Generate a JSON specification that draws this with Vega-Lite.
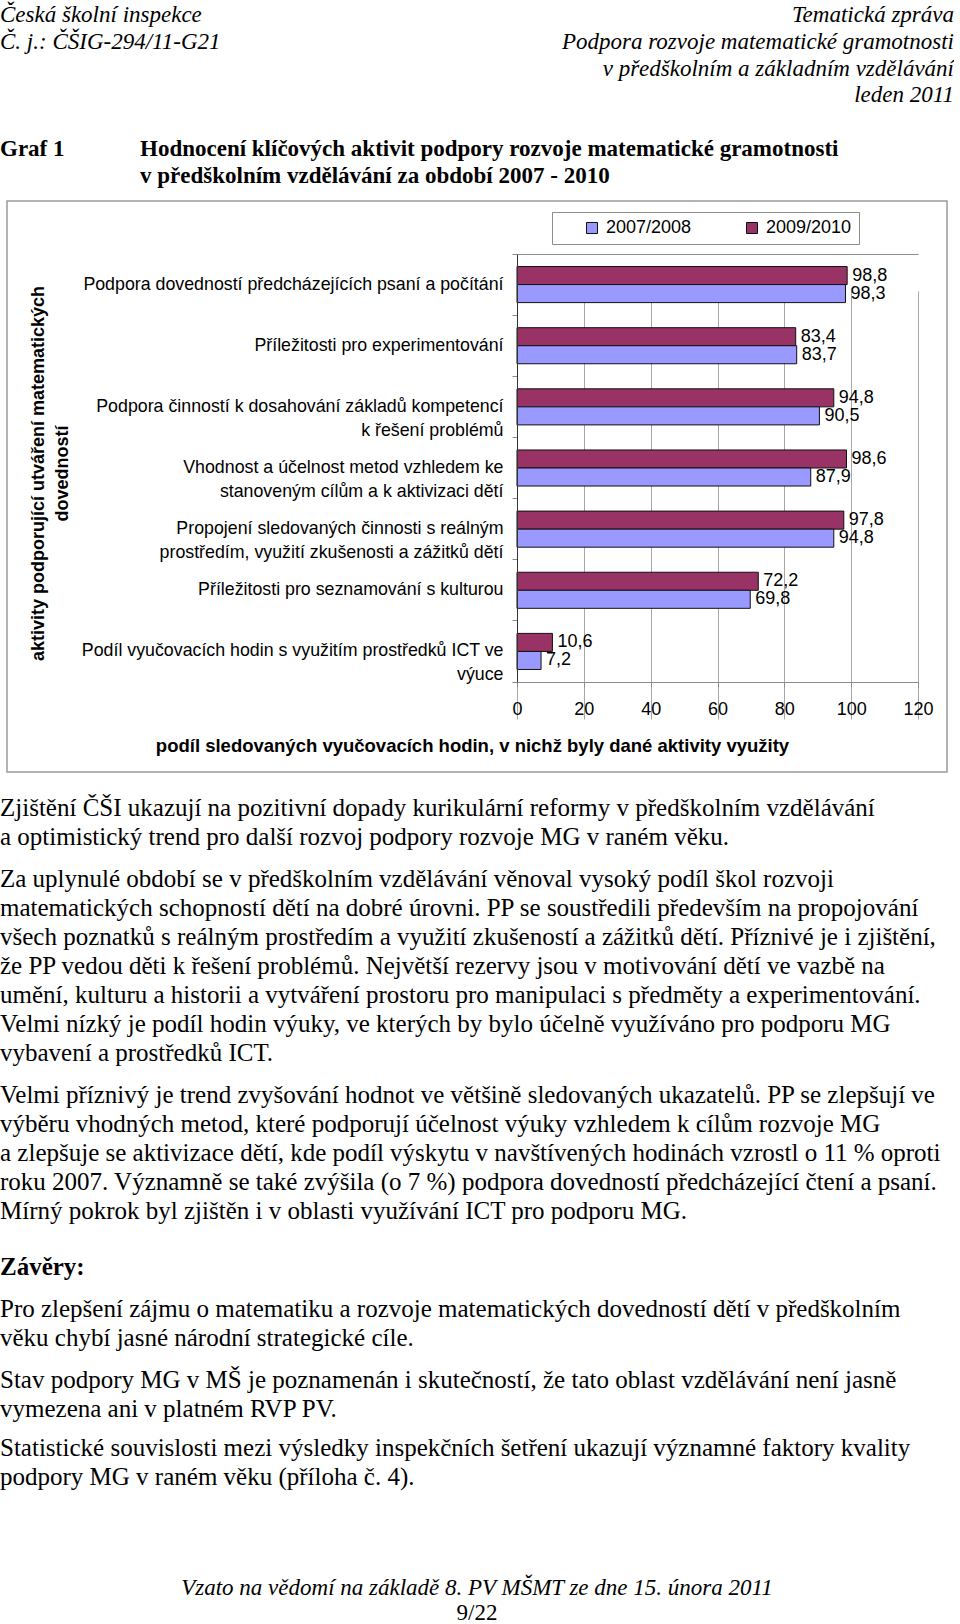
{
  "$schema": "https://vega.github.io/schema/vega-lite/v6.json",
  "padding": 0,
  "background": "white",
  "spacing": 0,
  "bounds": "flush",
  "center": true,
  "config": {
    "view": {"stroke": null},
    "font": "Liberation Sans",
    "locale": {"number": {"decimal": ",", "thousands": " ", "grouping": [3], "currency": ["", " Kč"]}}
  },
  "datasets": {
    "chart": [
      {"activity": "Podpora dovedností předcházejících psaní a počítání", "period": "2009/2010", "value": 98.8},
      {"activity": "Podpora dovedností předcházejících psaní a počítání", "period": "2007/2008", "value": 98.3},
      {"activity": "Příležitosti pro experimentování", "period": "2009/2010", "value": 83.4},
      {"activity": "Příležitosti pro experimentování", "period": "2007/2008", "value": 83.7},
      {"activity": "Podpora činností k dosahování základů kompetencí\nk řešení problémů", "period": "2009/2010", "value": 94.8},
      {"activity": "Podpora činností k dosahování základů kompetencí\nk řešení problémů", "period": "2007/2008", "value": 90.5},
      {"activity": "Vhodnost a účelnost metod vzhledem ke\nstanoveným cílům a k aktivizaci dětí", "period": "2009/2010", "value": 98.6},
      {"activity": "Vhodnost a účelnost metod vzhledem ke\nstanoveným cílům a k aktivizaci dětí", "period": "2007/2008", "value": 87.9},
      {"activity": "Propojení sledovaných činnosti s reálným\nprostředím, využití zkušenosti a zážitků dětí", "period": "2009/2010", "value": 97.8},
      {"activity": "Propojení sledovaných činnosti s reálným\nprostředím, využití zkušenosti a zážitků dětí", "period": "2007/2008", "value": 94.8},
      {"activity": "Příležitosti pro seznamování s kulturou", "period": "2009/2010", "value": 72.2},
      {"activity": "Příležitosti pro seznamování s kulturou", "period": "2007/2008", "value": 69.8},
      {"activity": "Podíl vyučovacích hodin s využitím prostředků ICT ve\nvýuce", "period": "2009/2010", "value": 10.6},
      {"activity": "Podíl vyučovacích hodin s využitím prostředků ICT ve\nvýuce", "period": "2007/2008", "value": 7.2}
    ],
    "topText": [
      {"kind": "header", "col": "left", "line": 1, "text": "Česká školní inspekce"},
      {"kind": "header", "col": "left", "line": 2, "text": "Č. j.: ČŠIG-294/11-G21"},
      {"kind": "header", "col": "right", "line": 1, "text": "Tematická zpráva"},
      {"kind": "header", "col": "right", "line": 2, "text": "Podpora rozvoje matematické gramotnosti"},
      {"kind": "header", "col": "right", "line": 3, "text": "v předškolním a základním vzdělávání"},
      {"kind": "header", "col": "right", "line": 4, "text": "leden 2011"},
      {"kind": "figure", "col": "left", "line": 6, "text": "Graf 1"},
      {"kind": "title", "col": "left", "line": 6, "text": "Hodnocení klíčových aktivit podpory rozvoje matematické gramotnosti"},
      {"kind": "title", "col": "left", "line": 7, "text": "v předškolním vzdělávání za období 2007 - 2010"}
    ],
    "bodyText": [
      {"para": 1, "col": "left", "line": 1, "text": "Zjištění ČŠI ukazují na pozitivní dopady kurikulární reformy v předškolním vzdělávání"},
      {"para": 1, "col": "left", "line": 2, "text": "a optimistický trend pro další rozvoj podpory rozvoje MG v raném věku."},
      {"para": 2, "col": "left", "line": 3, "text": "Za uplynulé období se v předškolním vzdělávání věnoval vysoký podíl škol rozvoji"},
      {"para": 2, "col": "left", "line": 4, "text": "matematických schopností dětí na dobré úrovni. PP se soustředili především na propojování"},
      {"para": 2, "col": "left", "line": 5, "text": "všech poznatků s reálným prostředím a využití zkušeností a zážitků dětí. Příznivé je i zjištění,"},
      {"para": 2, "col": "left", "line": 6, "text": "že PP vedou děti k řešení problémů. Největší rezervy jsou v motivování dětí ve vazbě na"},
      {"para": 2, "col": "left", "line": 7, "text": "umění, kulturu a historii a vytváření prostoru pro manipulaci s předměty a experimentování."},
      {"para": 2, "col": "left", "line": 8, "text": "Velmi nízký je podíl hodin výuky, ve kterých by bylo účelně využíváno pro podporu MG"},
      {"para": 2, "col": "left", "line": 9, "text": "vybavení a prostředků ICT."},
      {"para": 3, "col": "left", "line": 10, "text": "Velmi příznivý je trend zvyšování hodnot ve většině sledovaných ukazatelů. PP se zlepšují ve"},
      {"para": 3, "col": "left", "line": 11, "text": "výběru vhodných metod, které podporují účelnost výuky vzhledem k cílům rozvoje MG"},
      {"para": 3, "col": "left", "line": 12, "text": "a zlepšuje se aktivizace dětí, kde podíl výskytu v navštívených hodinách vzrostl o 11 % oproti"},
      {"para": 3, "col": "left", "line": 13, "text": "roku 2007. Významně se také zvýšila (o 7 %) podpora dovedností předcházející čtení a psaní."},
      {"para": 3, "col": "left", "line": 14, "text": "Mírný pokrok byl zjištěn i v oblasti využívání ICT pro podporu  MG."},
      {"para": 4, "col": "left", "line": 15, "text": "Závěry:"},
      {"para": 5, "col": "left", "line": 16, "text": "Pro zlepšení zájmu o matematiku a rozvoje matematických dovedností dětí v předškolním"},
      {"para": 5, "col": "left", "line": 17, "text": "věku chybí jasné národní strategické cíle."},
      {"para": 6, "col": "left", "line": 18, "text": "Stav podpory MG v MŠ je poznamenán i skutečností, že tato oblast vzdělávání není jasně"},
      {"para": 6, "col": "left", "line": 19, "text": "vymezena ani v platném RVP PV."},
      {"para": 7, "col": "left", "line": 20, "text": "Statistické souvislosti mezi výsledky inspekčních šetření ukazují významné faktory kvality"},
      {"para": 7, "col": "left", "line": 21, "text": "podpory MG v raném věku (příloha č. 4)."}
    ],
    "footText": [
      {"role": "note", "col": "center", "line": 1, "text": "Vzato na vědomí na základě 8. PV MŠMT ze dne 15. února 2011"},
      {"role": "page", "col": "center", "line": 2, "text": "9/22"}
    ]
  },
  "vconcat": [
    {
      "width": 954,
      "height": 201,
      "data": {"name": "topText"},
      "encoding": {
        "x": {"field": "col", "type": "nominal", "scale": {"type": "point", "domain": ["left", "center", "right"], "padding": 0}, "axis": null},
        "y": {"field": "line", "type": "quantitative", "scale": {"domain": [1, 7], "range": [15, 175.5]}, "axis": null},
        "text": {"field": "text"}
      },
      "layer": [
        {
          "transform": [{"filter": "datum.kind == 'header' && datum.col == 'left'"}],
          "mark": {"type": "text", "align": "left", "baseline": "middle", "font": "Liberation Serif", "fontStyle": "italic", "fontSize": 23, "color": "black"}
        },
        {
          "transform": [{"filter": "datum.kind == 'header' && datum.col == 'right'"}],
          "mark": {"type": "text", "align": "right", "baseline": "middle", "font": "Liberation Serif", "fontStyle": "italic", "fontSize": 23, "color": "black"}
        },
        {
          "transform": [{"filter": "datum.kind == 'figure'"}],
          "mark": {"type": "text", "align": "left", "baseline": "middle", "font": "Liberation Serif", "fontWeight": "bold", "fontSize": 23, "color": "black"}
        },
        {
          "transform": [{"filter": "datum.kind == 'title'"}],
          "mark": {"type": "text", "align": "left", "baseline": "middle", "dx": 140, "font": "Liberation Serif", "fontWeight": "bold", "fontSize": 23, "color": "black"}
        }
      ]
    },
    {
      "width": 940,
      "height": 571,
      "view": {"stroke": "#9a9a9a", "strokeWidth": 1.5, "fill": "white"},
      "data": {"name": "chart"},
      "resolve": {"axis": {"x": "independent"}},
      "encoding": {
        "y": {
          "field": "activity", "type": "nominal", "sort": null,
          "scale": {"range": [53, 481], "paddingInner": 0, "paddingOuter": 0},
          "axis": {
            "orient": "left", "offset": -510, "bandPosition": 1, "tickExtra": true,
            "domainColor": "#333333", "tickColor": "#8c8c8c", "tickSize": 5,
            "labelFont": "Liberation Sans", "labelFontSize": 17.8, "labelColor": "black", "labelPadding": 9,
            "labelLimit": 600, "labelLineHeight": 24, "labelOverlap": false,
            "labelExpr": "split(datum.label, '\\n')",
            "title": ["aktivity podporující utváření matematických", "dovedností"],
            "titleFont": "Liberation Sans", "titleFontSize": 18, "titleFontWeight": "bold", "titleColor": "black",
            "titleLineHeight": 24, "titleAngle": 270, "titleX": -479, "titleY": 272,
            "titleAlign": "center", "titleBaseline": "middle",
            "zindex": 1
          }
        },
        "yOffset": {
          "field": "period", "type": "nominal", "sort": ["2009/2010", "2007/2008"],
          "scale": {"domain": ["2009/2010", "2007/2008"], "paddingInner": 0, "paddingOuter": 0.695}
        }
      },
      "layer": [
        {
          "mark": {"type": "bar", "stroke": "#111111", "strokeWidth": 1},
          "encoding": {
            "x": {
              "field": "value", "type": "quantitative",
              "scale": {"domain": [0, 120], "range": [510, 911], "nice": false, "zero": true},
              "axis": {
                "orient": "bottom", "offset": -90, "values": [0, 20, 40, 60, 80, 100, 120],
                "grid": true, "gridColor": "#a8a8a8", "gridWidth": 1, "gridOpacity": 1,
                "domainColor": "#8c8c8c", "tickColor": "#8c8c8c", "tickSize": 5,
                "labelFont": "Liberation Sans", "labelFontSize": 18, "labelColor": "black", "labelPadding": 13,
                "labelFlush": false, "labelOverlap": false,
                "title": "podíl sledovaných vyučovacích hodin, v nichž byly dané aktivity využity",
                "titleFont": "Liberation Sans", "titleFontSize": 18.5, "titleFontWeight": "bold", "titleColor": "black",
                "titleX": 465, "titleY": 63, "titleAlign": "center", "titleBaseline": "middle"
              }
            },
            "color": {
              "field": "period", "type": "nominal",
              "scale": {"domain": ["2007/2008", "2009/2010"], "range": ["#9999ff", "#993366"]},
              "legend": {
                "orient": "none", "legendX": 552, "legendY": 212, "direction": "horizontal", "title": null,
                "strokeColor": "#8c8c8c", "fillColor": "white", "padding": 7,
                "symbolType": "square", "symbolSize": 121, "symbolStrokeColor": "#111111", "symbolStrokeWidth": 1,
                "symbolOffset": 24, "labelFont": "Liberation Sans", "labelFontSize": 18, "labelColor": "black",
                "labelOffset": 5, "columnPadding": 27
              }
            }
          }
        },
        {
          "mark": {"type": "text", "align": "left", "baseline": "middle", "dx": 5, "font": "Liberation Sans", "fontSize": 18, "color": "black"},
          "encoding": {
            "x": {
              "field": "value", "type": "quantitative",
              "scale": {"domain": [0, 120], "range": [510, 911], "nice": false, "zero": true},
              "axis": {
                "orient": "top", "offset": -53, "domain": true, "domainColor": "#8c8c8c",
                "ticks": false, "labels": false, "grid": false, "title": null
              }
            },
            "text": {"field": "value", "type": "quantitative", "format": ".1f"}
          }
        }
      ]
    },
    {
      "width": 954,
      "height": 79.4,
      "data": {"name": "bodyText"},
      "transform": [{"filter": "datum.para == 1"}],
      "mark": {"type": "text", "align": "left", "baseline": "middle", "font": "Liberation Serif", "fontSize": 25, "color": "black"},
      "encoding": {
        "x": {"field": "col", "type": "nominal", "scale": {"type": "point", "domain": ["left", "center", "right"], "padding": 0}, "axis": null},
        "y": {"field": "line", "type": "ordinal", "scale": {"type": "band", "paddingInner": 0, "paddingOuter": 0.3666, "align": 1}, "axis": null},
        "text": {"field": "text"}
      }
    },
    {
      "width": 954,
      "height": 215.8,
      "data": {"name": "bodyText"},
      "transform": [{"filter": "datum.para == 2"}],
      "mark": {"type": "text", "align": "left", "baseline": "middle", "font": "Liberation Serif", "fontSize": 25, "color": "black"},
      "encoding": {
        "x": {"field": "col", "type": "nominal", "scale": {"type": "point", "domain": ["left", "center", "right"], "padding": 0}, "axis": null},
        "y": {"field": "line", "type": "ordinal", "scale": {"type": "band", "paddingInner": 0, "paddingOuter": 0.2143, "align": 1}, "axis": null},
        "text": {"field": "text"}
      }
    },
    {
      "width": 954,
      "height": 157.7,
      "data": {"name": "bodyText"},
      "transform": [{"filter": "datum.para == 3"}],
      "mark": {"type": "text", "align": "left", "baseline": "middle", "font": "Liberation Serif", "fontSize": 25, "color": "black"},
      "encoding": {
        "x": {"field": "col", "type": "nominal", "scale": {"type": "point", "domain": ["left", "center", "right"], "padding": 0}, "axis": null},
        "y": {"field": "line", "type": "ordinal", "scale": {"type": "band", "paddingInner": 0, "paddingOuter": 0.2143, "align": 1}, "axis": null},
        "text": {"field": "text"}
      }
    },
    {
      "width": 954,
      "height": 55.9,
      "data": {"name": "bodyText"},
      "transform": [{"filter": "datum.para == 4"}],
      "mark": {"type": "text", "align": "left", "baseline": "middle", "font": "Liberation Serif", "fontWeight": "bold", "fontSize": 25, "color": "black"},
      "encoding": {
        "x": {"field": "col", "type": "nominal", "scale": {"type": "point", "domain": ["left", "center", "right"], "padding": 0}, "axis": null},
        "y": {"field": "line", "type": "ordinal", "scale": {"type": "band", "paddingInner": 0, "paddingOuter": 0.4621, "align": 1}, "axis": null},
        "text": {"field": "text"}
      }
    },
    {
      "width": 954,
      "height": 70.55,
      "data": {"name": "bodyText"},
      "transform": [{"filter": "datum.para == 5"}],
      "mark": {"type": "text", "align": "left", "baseline": "middle", "font": "Liberation Serif", "fontSize": 25, "color": "black"},
      "encoding": {
        "x": {"field": "col", "type": "nominal", "scale": {"type": "point", "domain": ["left", "center", "right"], "padding": 0}, "axis": null},
        "y": {"field": "line", "type": "ordinal", "scale": {"type": "band", "paddingInner": 0, "paddingOuter": 0.2143, "align": 1}, "axis": null},
        "text": {"field": "text"}
      }
    },
    {
      "width": 954,
      "height": 70.55,
      "data": {"name": "bodyText"},
      "transform": [{"filter": "datum.para == 6"}],
      "mark": {"type": "text", "align": "left", "baseline": "middle", "font": "Liberation Serif", "fontSize": 25, "color": "black"},
      "encoding": {
        "x": {"field": "col", "type": "nominal", "scale": {"type": "point", "domain": ["left", "center", "right"], "padding": 0}, "axis": null},
        "y": {"field": "line", "type": "ordinal", "scale": {"type": "band", "paddingInner": 0, "paddingOuter": 0.2143, "align": 1}, "axis": null},
        "text": {"field": "text"}
      }
    },
    {
      "width": 954,
      "height": 68,
      "data": {"name": "bodyText"},
      "transform": [{"filter": "datum.para == 7"}],
      "mark": {"type": "text", "align": "left", "baseline": "middle", "font": "Liberation Serif", "fontSize": 25, "color": "black"},
      "encoding": {
        "x": {"field": "col", "type": "nominal", "scale": {"type": "point", "domain": ["left", "center", "right"], "padding": 0}, "axis": null},
        "y": {"field": "line", "type": "ordinal", "scale": {"type": "band", "paddingInner": 0, "paddingOuter": 0.1704, "align": 1}, "axis": null},
        "text": {"field": "text"}
      }
    },
    {
      "width": 954,
      "height": 134,
      "data": {"name": "footText"},
      "encoding": {
        "x": {"field": "col", "type": "nominal", "scale": {"type": "point", "domain": ["left", "center", "right"], "padding": 0}, "axis": null},
        "y": {"field": "line", "type": "quantitative", "scale": {"domain": [1, 2], "range": [95.5, 121]}, "axis": null},
        "text": {"field": "text"}
      },
      "layer": [
        {
          "transform": [{"filter": "datum.role == 'note'"}],
          "mark": {"type": "text", "align": "center", "baseline": "middle", "font": "Liberation Serif", "fontStyle": "italic", "fontSize": 23, "color": "black"}
        },
        {
          "transform": [{"filter": "datum.role == 'page'"}],
          "mark": {"type": "text", "align": "center", "baseline": "middle", "font": "Liberation Serif", "fontSize": 23, "color": "black"}
        }
      ]
    }
  ]
}
